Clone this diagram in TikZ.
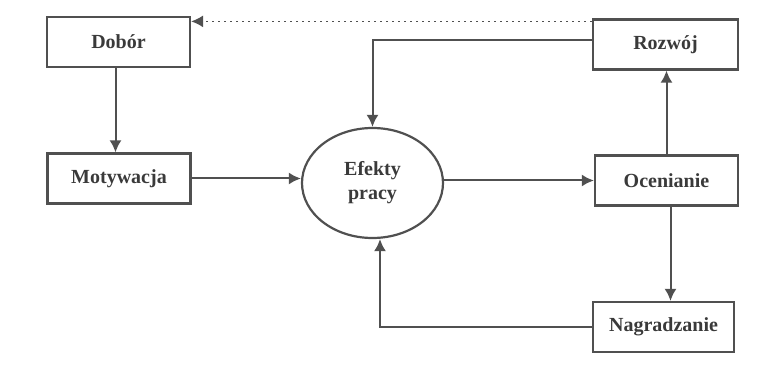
\documentclass[tikz,border=0pt]{standalone}
\usepackage{fontspec}
\setmainfont{Liberation Serif}
\usetikzlibrary{arrows.meta,shapes.geometric}
\definecolor{inkgray}{HTML}{505050}
\definecolor{txtgray}{HTML}{3A3A3A}
\tikzset{
  box/.style={draw=inkgray, line width=1.1pt, text=txtgray, font=\bfseries,
    minimum width=71.5pt, minimum height=25pt, inner sep=0pt},
  link/.style={draw=inkgray, line width=1pt, -{Latex[length=6pt,width=6pt]}},
}
\begin{document}
\begin{tikzpicture}[x=0.5pt,y=-0.5pt]
        \useasboundingbox (0,0) rectangle (773,374);
        % boxes
        \node[box] (dobor) at (118.5,42) {Dobór};
        \node[box] (motywacja) at (119,178.5) {Motywacja};
        \node[box,minimum width=72.5pt] (rozwoj) at (665.5,44.5) {Rozwój};
        \node[box] (ocenianie) at (666.5,180.5) {Ocenianie};
        \node[box,minimum width=70.5pt] (nagradzanie) at (663.5,327) {Nagradzanie};
        % circle
        \node[ellipse, draw=inkgray, line width=1.1pt, text=txtgray, font=\bfseries,
          minimum width=70.5pt, minimum height=55pt, inner sep=0pt, align=center]
          (efekty) at (372.5,183) {Efekty\\pracy};
        % arrows
        \draw[link] ([xshift=-1.5pt]dobor.south) -- ([xshift=-1.5pt]dobor.south |- motywacja.north);
        \draw[link] (motywacja.east) -- (motywacja.east -| efekty.west);
        \draw[link] (efekty.east |- ocenianie.west) -- (ocenianie.west);
        \draw[link] (ocenianie.north) -- (ocenianie.north |- rozwoj.south);
        \draw[link] ([xshift=2pt]ocenianie.south) -- ([xshift=2pt]ocenianie.south |- nagradzanie.north);
        \draw[link] ([yshift=2.25pt]rozwoj.west) -| (efekty.north);
        \draw[link] (nagradzanie.west) -| ([xshift=3.75pt]efekty.south);
        % dotted back line
        \coordinate (back) at ([yshift=-1.5pt]rozwoj.north west);
        \draw[link, dotted, line width=0.8pt] (back) -- (back -| dobor.east);
\end{tikzpicture}
\end{document}
